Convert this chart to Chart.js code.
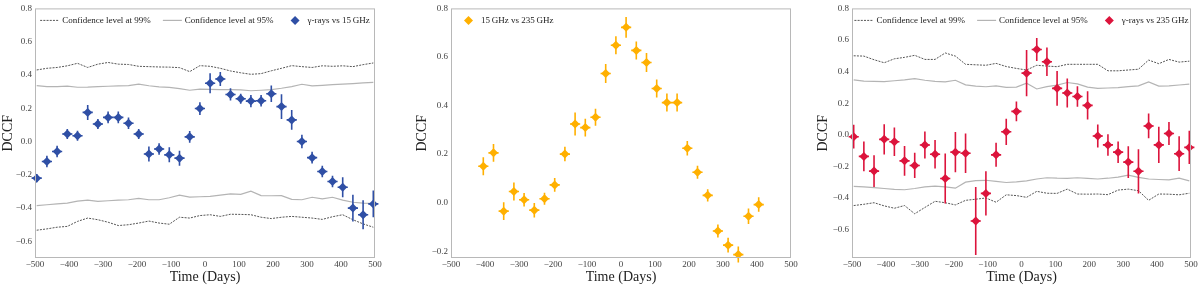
<!DOCTYPE html>
<html>
<head>
<meta charset="utf-8">
<script src="https://cdn.jsdelivr.net/npm/chart.js@4.4.0/dist/chart.umd.min.js"></script>
<style>
  html, body { margin: 0; padding: 0; background: #fff; }
  body { width: 1200px; height: 286px; position: relative; overflow: hidden; }
  .panel { position: absolute; top: 0; height: 286px; }
</style>
</head>
<body>
<div class="panel" style="left:0;width:390px"><canvas id="chart1"></canvas></div>
<div class="panel" style="left:400px;width:400px"><canvas id="chart2"></canvas></div>
<div class="panel" style="left:800px;width:400px"><canvas id="chart3"></canvas></div>
<script>
// time lags (days)
const lags = [-495, -465, -435, -405, -375, -345, -315, -285, -255, -225, -195, -165, -135, -105, -75, -45, -15,
    15, 45, 75, 105, 135, 165, 195, 225, 255, 285, 315, 345, 375, 405, 435, 465, 495];
const radioLags = [-405, -375, -345, -315, -285, -255, -225, -195, -165, -135, -105, -75, -45, -15,
    15, 45, 75, 105, 135, 165, 195, 225, 255, 285, 315, 345, 375, 405];
const lagErr = 15;

// gamma-rays vs 15 GHz
const gamma15 = [-0.22, -0.12, -0.06, 0.045, 0.035, 0.175, 0.105, 0.145, 0.145, 0.11, 0.045, -0.075, -0.045, -0.08, -0.1, 0.028, 0.198,
    0.35, 0.376, 0.283, 0.257, 0.243, 0.245, 0.287, 0.21, 0.13, 0.0, -0.097, -0.18, -0.24, -0.275, -0.4, -0.44, -0.375];
const gamma15Err = [0.025, 0.035, 0.035, 0.03, 0.03, 0.045, 0.03, 0.035, 0.035, 0.035, 0.03, 0.045, 0.035, 0.045, 0.045, 0.035, 0.038,
    0.06, 0.042, 0.037, 0.03, 0.037, 0.035, 0.05, 0.074, 0.06, 0.04, 0.035, 0.035, 0.035, 0.06, 0.08, 0.087, 0.08];
const ci99Up1 = [0.43, 0.44, 0.445, 0.455, 0.47, 0.445, 0.465, 0.475, 0.465, 0.463, 0.452, 0.45, 0.448, 0.447, 0.444, 0.42, 0.456,
    0.452, 0.44, 0.424, 0.413, 0.404, 0.408, 0.425, 0.44, 0.456, 0.45, 0.445, 0.455, 0.452, 0.455, 0.45, 0.462, 0.472];
const ci95Up1 = [0.336, 0.33, 0.33, 0.333, 0.326, 0.327, 0.33, 0.332, 0.334, 0.336, 0.345, 0.335, 0.328, 0.325, 0.318, 0.308, 0.315,
    0.313, 0.312, 0.312, 0.31, 0.305, 0.308, 0.312, 0.32, 0.33, 0.344, 0.334, 0.338, 0.342, 0.345, 0.348, 0.352, 0.355];
const ci95Lo1 = [-0.385, -0.38, -0.375, -0.37, -0.358, -0.352, -0.36, -0.356, -0.352, -0.35, -0.342, -0.35, -0.35, -0.338, -0.322, -0.334, -0.332,
    -0.33, -0.322, -0.315, -0.318, -0.298, -0.325, -0.326, -0.325, -0.348, -0.35, -0.335, -0.345, -0.335, -0.352, -0.365, -0.37, -0.372];
const ci99Lo1 = [-0.533, -0.525, -0.515, -0.51, -0.48, -0.46, -0.47, -0.485, -0.505, -0.5, -0.49, -0.478, -0.49, -0.497, -0.455, -0.46, -0.445,
    -0.44, -0.45, -0.437, -0.438, -0.44, -0.455, -0.463, -0.455, -0.45, -0.455, -0.46, -0.468, -0.452, -0.44, -0.47, -0.495, -0.515];

// 15 GHz vs 235 GHz
const radio = [0.15, 0.205, -0.035, 0.046, 0.012, -0.031, 0.016, 0.073, 0.2, 0.324, 0.309, 0.352, 0.532, 0.648,
    0.722, 0.627, 0.577, 0.47, 0.412, 0.412, 0.224, 0.125, 0.03, -0.117, -0.175, -0.214, -0.056, -0.008];
const radioErr = [0.037, 0.037, 0.037, 0.037, 0.028, 0.03, 0.025, 0.028, 0.03, 0.047, 0.037, 0.035, 0.039, 0.037,
    0.043, 0.037, 0.039, 0.037, 0.037, 0.037, 0.03, 0.027, 0.025, 0.027, 0.03, 0.033, 0.032, 0.03];

// gamma-rays vs 235 GHz
const gamma235 = [-0.012, -0.137, -0.23, -0.029, -0.044, -0.165, -0.194, -0.065, -0.123, -0.277, -0.11, -0.117, -0.546, -0.371, -0.127, 0.019, 0.148,
    0.39, 0.54, 0.462, 0.294, 0.264, 0.242, 0.186, -0.008, -0.064, -0.11, -0.173, -0.231, 0.056, -0.064, 0.008, -0.12, -0.08];
const gamma235Err = [0.075, 0.094, 0.1, 0.096, 0.09, 0.094, 0.08, 0.085, 0.09, 0.158, 0.127, 0.125, 0.215, 0.14, 0.076, 0.083, 0.0625,
    0.146, 0.073, 0.09, 0.11, 0.092, 0.065, 0.09, 0.073, 0.068, 0.068, 0.1, 0.14, 0.078, 0.115, 0.073, 0.11, 0.105];
const ci99Up3 = [0.5, 0.498, 0.475, 0.456, 0.481, 0.49, 0.503, 0.477, 0.477, 0.518, 0.498, 0.446, 0.443, 0.44, 0.452, 0.432, 0.42,
    0.41, 0.44, 0.435, 0.431, 0.446, 0.446, 0.446, 0.446, 0.405, 0.405, 0.41, 0.415, 0.473, 0.45, 0.477, 0.46, 0.466];
const ci95Up3 = [0.348, 0.34, 0.338, 0.337, 0.342, 0.348, 0.356, 0.345, 0.338, 0.335, 0.345, 0.316, 0.308, 0.304, 0.31, 0.3, 0.302,
    0.327, 0.29, 0.305, 0.314, 0.331, 0.322, 0.302, 0.294, 0.296, 0.298, 0.305, 0.31, 0.335, 0.308, 0.31, 0.315, 0.321];
const ci95Lo3 = [-0.327, -0.33, -0.335, -0.34, -0.345, -0.348, -0.34, -0.33, -0.325, -0.33, -0.338, -0.3, -0.29, -0.288, -0.295, -0.302, -0.298,
    -0.292, -0.28, -0.272, -0.275, -0.276, -0.272, -0.276, -0.28, -0.275, -0.268, -0.255, -0.27, -0.28, -0.283, -0.285, -0.275, -0.292];
const ci99Lo3 = [-0.448, -0.44, -0.43, -0.45, -0.465, -0.448, -0.5, -0.46, -0.421, -0.43, -0.444, -0.415, -0.408, -0.4, -0.427, -0.38, -0.385,
    -0.396, -0.358, -0.37, -0.371, -0.344, -0.375, -0.376, -0.375, -0.379, -0.35, -0.344, -0.354, -0.415, -0.375, -0.376, -0.38, -0.37];

// tick labels
const xTicks = [-500, -400, -300, -200, -100, 0, 100, 200, 300, 400, 500];
const yTicks1 = [-0.6, -0.4, -0.2, 0.0, 0.2, 0.4, 0.6, 0.8];
const yTicks2 = [-0.2, 0.0, 0.2, 0.4, 0.6, 0.8];
const yTicks3 = [-0.6, -0.4, -0.2, 0.0, 0.2, 0.4, 0.6, 0.8];

const serif = '"Liberation Serif", "DejaVu Serif", serif';
const fmt = (v, d) => (v < 0 ? '\u2212' : '') + Math.abs(v).toFixed(d);
const pts = (xs, ys) => xs.map((x, i) => ({x: x, y: ys[i]}));

const errorBars = {
    id: 'errorBars',
    beforeDatasetDraw(chart, args) {
        const ds = chart.data.datasets[args.index];
        if (!ds.yErr) return;
        const {ctx} = chart;
        const sx = chart.scales.x, sy = chart.scales.y;
        ctx.save();
        ctx.strokeStyle = ds.backgroundColor;
        ctx.lineWidth = 1.6;
        ds.data.forEach((p, i) => {
            const px = sx.getPixelForValue(p.x), py = sy.getPixelForValue(p.y);
            ctx.beginPath();
            ctx.moveTo(px, sy.getPixelForValue(p.y - ds.yErr[i]));
            ctx.lineTo(px, sy.getPixelForValue(p.y + ds.yErr[i]));
            ctx.moveTo(sx.getPixelForValue(p.x - ds.xErr), py);
            ctx.lineTo(sx.getPixelForValue(p.x + ds.xErr), py);
            ctx.stroke();
        });
        ctx.restore();
    }
};

const frame = {
    id: 'frame',
    afterDraw(chart) {
        const {ctx, chartArea: a} = chart;
        ctx.save();
        ctx.strokeStyle = '#b8b8b8';
        ctx.lineWidth = 1;
        ctx.strokeRect(a.left + 0.5, a.top + 0.5, a.right - a.left - 1, a.bottom - a.top - 1);
        ctx.restore();
    }
};

// legend drawn inside the plot area, only for labelled datasets
const insideLegend = {
    id: 'insideLegend',
    afterDatasetsDraw(chart, args, opts) {
        const {ctx, chartArea: a} = chart;
        const handle = 19, pad = 3, gap = 12;
        ctx.save();
        ctx.font = '9px ' + serif;
        const items = chart.data.datasets.filter(d => d.label)
            .map(d => ({d: d, w: handle + pad + ctx.measureText(d.label).width}));
        const total = items.reduce((s, it) => s + it.w, 0) + gap * (items.length - 1);
        let x = opts.align === 'start' ? a.left + 8 : (a.left + a.right - total) / 2;
        const y = a.top + 12;
        items.forEach(it => {
            const d = it.d;
            if (d.showLine) {
                ctx.strokeStyle = d.borderColor;
                ctx.lineWidth = d.borderWidth;
                ctx.setLineDash(d.borderDash || []);
                ctx.beginPath();
                ctx.moveTo(x, y);
                ctx.lineTo(x + handle, y);
                ctx.stroke();
                ctx.setLineDash([]);
            } else {
                const cx = x + handle / 2, r = 4.5;
                ctx.fillStyle = d.backgroundColor;
                ctx.beginPath();
                ctx.moveTo(cx - r, y);
                ctx.lineTo(cx, y - r);
                ctx.lineTo(cx + r, y);
                ctx.lineTo(cx, y + r);
                ctx.closePath();
                ctx.fill();
            }
            ctx.fillStyle = '#222';
            ctx.textBaseline = 'middle';
            ctx.fillText(d.label, x + handle + pad, y);
            x += it.w + gap;
        });
        ctx.restore();
    }
};

function ciLine(label, values, dotted) {
    return {
        label: label,
        data: pts(lags, values),
        showLine: true,
        pointRadius: 0,
        borderColor: dotted ? '#555' : '#b4b4b4',
        borderWidth: dotted ? 1 : 1.2,
        borderDash: dotted ? [2, 1.2] : [],
        order: 1
    };
}

function series(label, xs, ys, errs, color) {
    return {
        label: label,
        data: pts(xs, ys),
        yErr: errs,
        xErr: lagErr,
        pointStyle: 'rectRot',
        pointRadius: 4.5,
        borderWidth: 0,
        backgroundColor: color,
        borderColor: color,
        clip: false,
        order: 0
    };
}

function makeOptions(yMin, yMax, yTicks, yWidth, titlePad, rightPad, align) {
    return {
        responsive: true,
        maintainAspectRatio: false,
        animation: false,
        events: [],
        layout: {padding: {top: 5, right: rightPad, left: 0, bottom: 0}},
        plugins: {
            legend: {display: false},
            tooltip: {enabled: false},
            insideLegend: {align: align}
        },
        scales: {
            x: {
                type: 'linear',
                min: -500,
                max: 500,
                afterBuildTicks: s => { s.ticks = xTicks.map(v => ({value: v})); },
                afterFit: s => { s.height = 28; },
                grid: {display: false, drawTicks: false},
                border: {display: false},
                ticks: {padding: 1, autoSkip: false, maxRotation: 0, color: '#444',
                    font: {family: serif, size: 9}, callback: v => fmt(v, 0)},
                title: {display: true, text: 'Time (Days)', color: '#222',
                    font: {family: serif, size: 14}, padding: {top: 0, bottom: 0}}
            },
            y: {
                min: yMin,
                max: yMax,
                afterBuildTicks: s => { s.ticks = yTicks.map(v => ({value: v})); },
                afterFit: s => { s.width = yWidth; },
                grid: {display: false, drawTicks: false},
                border: {display: false},
                ticks: {padding: 3, color: '#444', font: {family: serif, size: 9}, callback: v => fmt(v, 1)},
                title: {display: true, text: 'DCCF', color: '#222',
                    font: {family: serif, size: 14}, padding: {top: titlePad, bottom: 0}}
            }
        }
    };
}

const chart1 = new Chart(document.querySelector('#chart1'), {
    type: 'scatter',
    data: {
        datasets: [
            ciLine('Confidence level at 99%', ci99Up1, true),
            ciLine('Confidence level at 95%', ci95Up1, false),
            series('\u03b3-rays vs 15\u2009GHz', lags, gamma15, gamma15Err, '#2f4fa5'),
            ciLine('', ci95Lo1, false),
            ciLine('', ci99Lo1, true)
        ]
    },
    options: makeOptions(-0.7, 0.8, yTicks1, 35, 0, 15, 'center'),
    plugins: [errorBars, frame, insideLegend]
});

const chart2 = new Chart(document.querySelector('#chart2'), {
    type: 'scatter',
    data: {
        datasets: [
            series('15\u2009GHz vs 235\u2009GHz', radioLags, radio, radioErr, '#ffb000')
        ]
    },
    options: makeOptions(-0.228, 0.8, yTicks2, 51, 13.5, 9, 'start'),
    plugins: [errorBars, frame, insideLegend]
});

const chart3 = new Chart(document.querySelector('#chart3'), {
    type: 'scatter',
    data: {
        datasets: [
            ciLine('Confidence level at 99%', ci99Up3, true),
            ciLine('Confidence level at 95%', ci95Up3, false),
            series('\u03b3-rays vs 235\u2009GHz', lags, gamma235, gamma235Err, '#dc143c'),
            ciLine('', ci95Lo3, false),
            ciLine('', ci99Lo3, true)
        ]
    },
    options: makeOptions(-0.78, 0.8, yTicks3, 52, 15, 9, 'center'),
    plugins: [errorBars, frame, insideLegend]
});
</script>
</body>
</html>
